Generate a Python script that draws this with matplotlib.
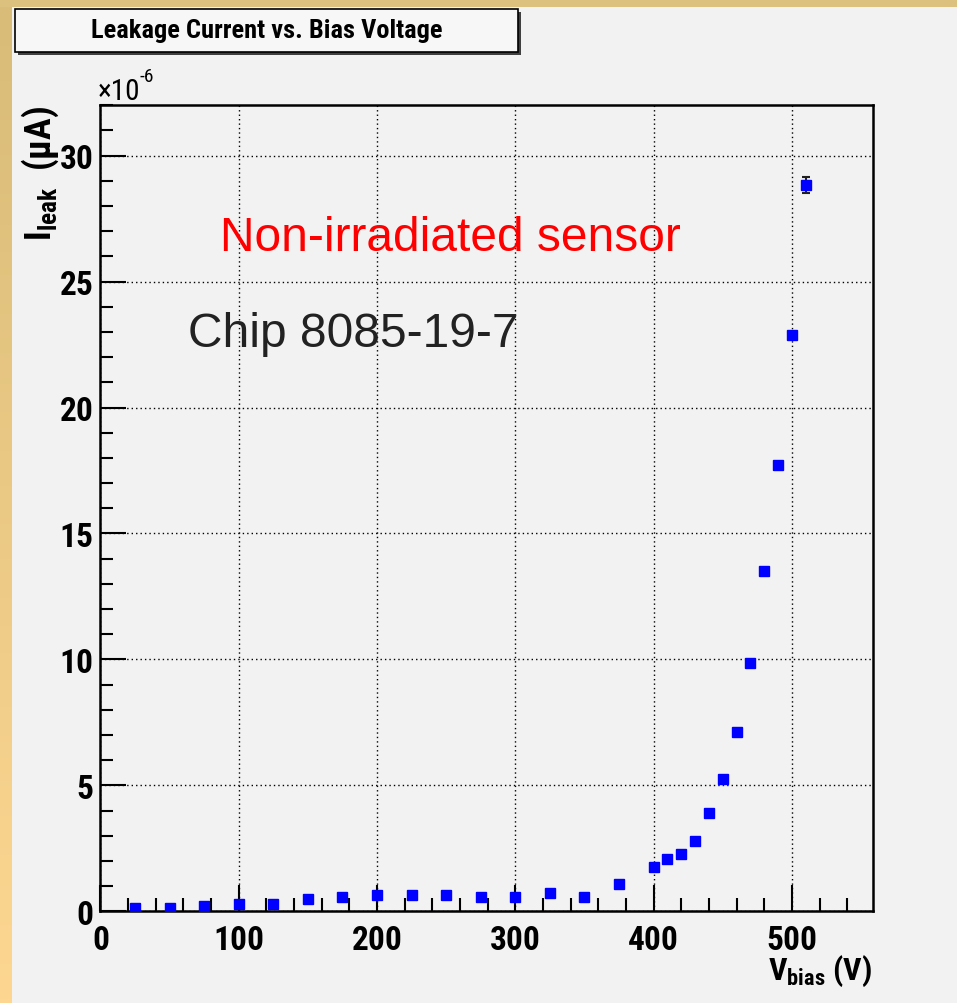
import numpy as np
import matplotlib.pyplot as plt
from matplotlib.patches import Rectangle
from matplotlib.colors import LinearSegmentedColormap
from matplotlib.ticker import MultipleLocator

# IV scan, values in units of 1e-6 uA
v_bias = [25, 50, 75, 100, 125, 150, 175, 200, 225, 250, 275, 300, 325, 350,
          375, 400, 410, 420, 430, 440, 450, 460, 470, 480, 490, 500, 510]
i_leak = [0.15, 0.13, 0.20, 0.30, 0.30, 0.48, 0.55, 0.65, 0.66, 0.65, 0.56, 0.57, 0.74, 0.56,
          1.07, 1.75, 2.08, 2.26, 2.80, 3.90, 5.27, 7.10, 9.84, 13.5, 17.7, 22.86, 28.83]
i_err = [0.05, 0.05, 0.05, 0.05, 0.05, 0.05, 0.05, 0.05, 0.05, 0.05, 0.05, 0.05, 0.05, 0.05,
         0.05, 0.06, 0.06, 0.06, 0.06, 0.07, 0.08, 0.08, 0.10, 0.10, 0.12, 0.14, 0.32]

W, H = 957, 1004
narrow = ['Roboto Condensed', 'Liberation Sans', 'DejaVu Sans']
plain = ['Liberation Sans', 'DejaVu Sans']

plt.rcParams['mathtext.fontset'] = 'custom'
plt.rcParams['mathtext.rm'] = 'Roboto Condensed:bold'
plt.rcParams['mathtext.bf'] = 'Roboto Condensed:bold'
plt.rcParams['mathtext.it'] = 'Roboto Condensed:bold'


def fx(x):
    return x / W


def fy(y):
    return 1 - y / H


fig = plt.figure(figsize=(W / 100, H / 100), dpi=100)
fig.patch.set_facecolor('#dcc07e')

# page background and the left gradient strip
fig.add_artist(Rectangle((fx(12), 0), 1 - fx(12), fy(8), transform=fig.transFigure,
                         facecolor='#f2f2f2', edgecolor='none', zorder=0))
strip = fig.add_axes([0, 0, fx(12), fy(8)], zorder=0)
grad = np.linspace(0, 1, 256).reshape(-1, 1)
cm = LinearSegmentedColormap.from_list('strip', ['#d8bc78', '#fdd792'])
strip.imshow(grad, aspect='auto', cmap=cm, extent=[0, 1, 0, 1], origin='upper')
strip.axis('off')

ax = fig.add_axes([fx(100.4), fy(912.3), fx(872.7) - fx(100.4), fy(105.5) - fy(912.3)])
ax.set_facecolor('#f2f2f2')

ax.errorbar(v_bias, i_leak, yerr=i_err, fmt='s', color='#0000ff', ms=7,
            ecolor='#202020', elinewidth=1.5, capsize=3, capthick=1.5, zorder=5)

ax.set_xlim(0, 558.4)
ax.set_ylim(0, 32.03)
ax.xaxis.set_major_locator(MultipleLocator(100))
ax.xaxis.set_minor_locator(MultipleLocator(20))
ax.yaxis.set_major_locator(MultipleLocator(5))
ax.yaxis.set_minor_locator(MultipleLocator(1))
ax.tick_params(which='both', direction='in', top=False, right=False, color='black')
ax.tick_params(which='major', length=19, width=1.5)
ax.tick_params(which='minor', length=9.5, width=1.5)
ax.tick_params(axis='x', which='major', pad=9)
ax.tick_params(axis='y', which='major', pad=5)
for lab in ax.get_xticklabels() + ax.get_yticklabels():
    lab.set_family(narrow)
    lab.set_weight('bold')
    lab.set_fontsize(24)
for sp in ax.spines.values():
    sp.set_linewidth(1.8)

ax.grid(True, which='major', color='black', linestyle=(0, (1, 2.2)), linewidth=1.0)
ax.set_axisbelow(True)

ax.text(86.5, 26.25, 'Non-irradiated sensor', color='red', fontsize=34.5,
        family=plain, va='baseline', ha='left', zorder=6)
ax.text(63.3, 22.44, 'Chip 8085-19-7', color='#222222', fontsize=34.5,
        family=plain, va='baseline', ha='left', zorder=6)

# axis titles
fig.text(fx(40), fy(106), r'$\mathbf{I_{leak}}$  ($\mu$A)', rotation=90, ha='center',
         va='top', fontsize=26, family=narrow, weight='bold')
fig.text(fx(872), fy(980), r'$\mathbf{V_{bias}}$ (V)', ha='right', va='baseline',
         fontsize=23, family=narrow, weight='bold')

# exponent marker
fig.text(fx(98), fy(100), '\u00d710', ha='left', va='baseline', fontsize=21,
         family=narrow)
fig.text(fx(140), fy(82), '-6', ha='left', va='baseline', fontsize=14,
         family=narrow)

# title box with shadow
fig.add_artist(Rectangle((fx(18), fy(56)), fx(518) - fx(15), fy(10) - fy(53),
                         transform=fig.transFigure, facecolor='#404040',
                         edgecolor='none', zorder=3))
fig.add_artist(Rectangle((fx(15), fy(53)), fx(518) - fx(15), fy(10) - fy(53),
                         transform=fig.transFigure, facecolor='#f7f7f7',
                         edgecolor='black', linewidth=1.2, zorder=4))
fig.text(fx(267), fy(31), 'Leakage Current vs. Bias Voltage', ha='center', va='center',
         fontsize=19, family=narrow, weight='bold', zorder=5)

fig.savefig('out.png', dpi=100, facecolor=fig.get_facecolor())
